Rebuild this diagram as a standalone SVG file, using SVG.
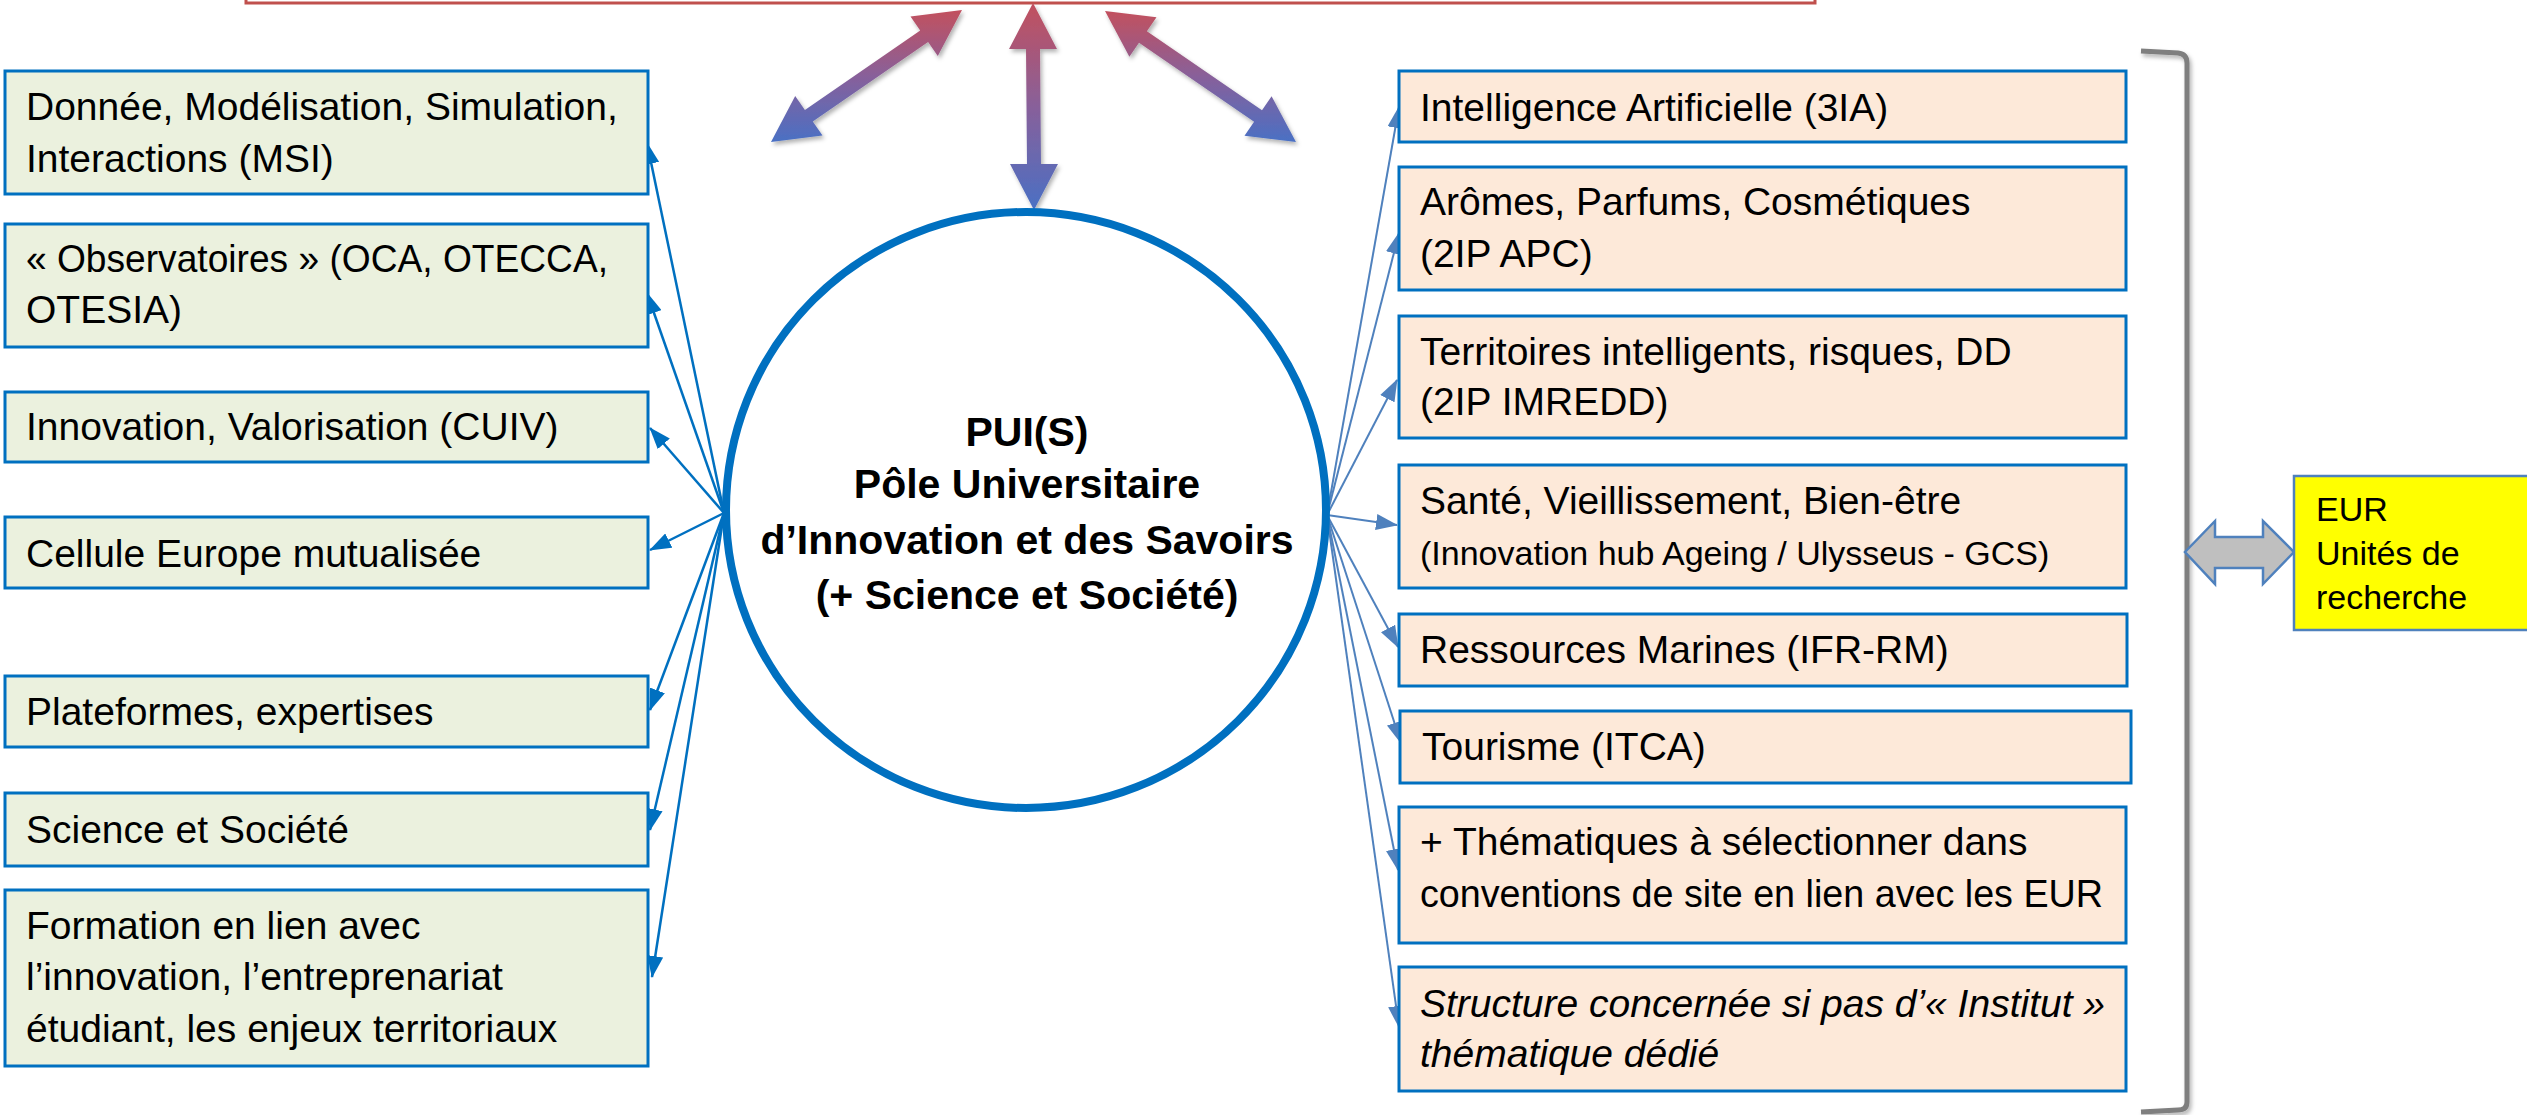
<svg xmlns="http://www.w3.org/2000/svg" width="2527" height="1115" viewBox="0 0 2527 1115">
<style>
.lbox{fill:#ebf1de;stroke:#0070c0;stroke-width:3}
.rbox{fill:#fde9d9;stroke:#0070c0;stroke-width:3}
.t{font-family:"Liberation Sans",Arial,sans-serif;font-size:39px;fill:#000}
.ts{font-family:"Liberation Sans",Arial,sans-serif;font-size:34px;fill:#000}
.ti{font-family:"Liberation Sans",Arial,sans-serif;font-size:39px;font-style:italic;fill:#000}
.tc{font-family:"Liberation Sans",Arial,sans-serif;font-size:41px;font-weight:bold;fill:#000;text-anchor:middle}
.te{font-family:"Liberation Sans",Arial,sans-serif;font-size:34px;fill:#000}
.cl{stroke:#0070c0;stroke-width:2.5;fill:none;marker-end:url(#ahL)}
.cr{stroke:#4f81bd;stroke-width:2;fill:none;marker-end:url(#ahR)}
.big{fill:url(#grad);filter:url(#sh)}
</style>
<defs>
<linearGradient id="grad" x1="0" y1="0" x2="0" y2="1">
<stop offset="0" stop-color="#c2505e"/>
<stop offset="0.5" stop-color="#88609a"/>
<stop offset="1" stop-color="#4a70c4"/>
</linearGradient>
<filter id="sh" x="-20%" y="-20%" width="140%" height="140%">
<feDropShadow dx="2" dy="3" stdDeviation="2" flood-color="#000" flood-opacity="0.3"/>
</filter>
<marker id="ahL" markerUnits="userSpaceOnUse" markerWidth="22" markerHeight="16" refX="21" refY="8" orient="auto">
<path d="M0,0 L22,8 L0,16 z" fill="#0070c0"/>
</marker>
<marker id="ahR" markerUnits="userSpaceOnUse" markerWidth="22" markerHeight="16" refX="21" refY="8" orient="auto">
<path d="M0,0 L22,8 L0,16 z" fill="#4f81bd"/>
</marker>
</defs>
<rect width="2527" height="1115" fill="#fff"/>

<g id="top-box">
<rect x="246" y="-20" width="1569" height="23" fill="#fff" stroke="#c0504d" stroke-width="3"/>
</g>

<g id="top-arrows">
<polygon class="big" points="962,10 937.8,55.9 928.1,41.9 812.8,121.6 822.5,135.6 771,142 795.2,96.1 804.9,110.1 920.2,30.4 910.5,16.4"/>
<polygon class="big" points="1033,3 1057,49 1040,49 1041,164 1058,164 1034,210 1010,164 1027,164 1026,49 1009,49"/>
<polygon class="big" points="1105,11 1129.4,56.8 1139,42.8 1254.1,121.8 1244.5,135.8 1296,142 1271.6,96.2 1262,110.2 1146.9,31.3 1156.5,17.2"/>
</g>

<g id="connectors">
<line class="cl" x1="724" y1="513" x2="647" y2="143"/>
<line class="cl" x1="724" y1="513" x2="647" y2="293"/>
<line class="cl" x1="724" y1="513" x2="650" y2="428"/>
<line class="cl" x1="724" y1="513" x2="650" y2="550"/>
<line class="cl" x1="724" y1="513" x2="650" y2="710"/>
<line class="cl" x1="724" y1="513" x2="650" y2="830"/>
<line class="cl" x1="724" y1="513" x2="652" y2="977"/>
<line class="cr" x1="1327" y1="515" x2="1399" y2="107"/>
<line class="cr" x1="1327" y1="515" x2="1399" y2="233"/>
<line class="cr" x1="1327" y1="515" x2="1397" y2="380"/>
<line class="cr" x1="1327" y1="515" x2="1397" y2="525"/>
<line class="cr" x1="1327" y1="515" x2="1398" y2="647"/>
<line class="cr" x1="1327" y1="515" x2="1401" y2="743"/>
<line class="cr" x1="1327" y1="515" x2="1398" y2="870"/>
<line class="cr" x1="1327" y1="515" x2="1399" y2="1027"/>
</g>

<g id="center">
<ellipse cx="1026" cy="510" rx="300" ry="298" fill="#fff" stroke="#0070c0" stroke-width="8"/>
<text class="tc" x="1027" y="446">PUI(S)</text>
<text class="tc" x="1027" y="498">Pôle Universitaire</text>
<text class="tc" x="1027" y="554">d’Innovation et des Savoirs</text>
<text class="tc" x="1027" y="609">(+ Science et Société)</text>
</g>

<g id="left-msi">
<rect class="lbox" x="5" y="71" width="643" height="123"/>
<text class="t" x="26" y="120">Donnée, Modélisation, Simulation,</text>
<text class="t" x="26" y="172">Interactions (MSI)</text>
</g>
<g id="left-observatoires">
<rect class="lbox" x="5" y="224" width="643" height="123"/>
<text class="t" x="26" y="272" textLength="582" lengthAdjust="spacingAndGlyphs">« Observatoires » (OCA, OTECCA,</text>
<text class="t" x="26" y="323">OTESIA)</text>
</g>
<g id="left-cuiv">
<rect class="lbox" x="5" y="392" width="643" height="70"/>
<text class="t" x="26" y="440">Innovation, Valorisation (CUIV)</text>
</g>
<g id="left-europe">
<rect class="lbox" x="5" y="517" width="643" height="71"/>
<text class="t" x="26" y="567">Cellule Europe mutualisée</text>
</g>
<g id="left-plateformes">
<rect class="lbox" x="5" y="676" width="643" height="71"/>
<text class="t" x="26" y="725">Plateformes, expertises</text>
</g>
<g id="left-science">
<rect class="lbox" x="5" y="793" width="643" height="73"/>
<text class="t" x="26" y="843">Science et Société</text>
</g>
<g id="left-formation">
<rect class="lbox" x="5" y="890" width="643" height="176"/>
<text class="t" x="26" y="939">Formation en lien avec</text>
<text class="t" x="26" y="990">l’innovation, l’entreprenariat</text>
<text class="t" x="26" y="1042">étudiant, les enjeux territoriaux</text>
</g>

<g id="right-3ia">
<rect class="rbox" x="1399" y="71" width="727" height="71"/>
<text class="t" x="1420" y="121">Intelligence Artificielle (3IA)</text>
</g>
<g id="right-apc">
<rect class="rbox" x="1399" y="167" width="727" height="123"/>
<text class="t" x="1420" y="215">Arômes, Parfums, Cosmétiques</text>
<text class="t" x="1420" y="267">(2IP APC)</text>
</g>
<g id="right-imredd">
<rect class="rbox" x="1399" y="316" width="727" height="122"/>
<text class="t" x="1420" y="365">Territoires intelligents, risques, DD</text>
<text class="t" x="1420" y="415">(2IP IMREDD)</text>
</g>
<g id="right-sante">
<rect class="rbox" x="1399" y="465" width="727" height="123"/>
<text class="t" x="1420" y="514">Santé, Vieillissement, Bien-être</text>
<text class="ts" x="1420" y="565">(Innovation hub Ageing / Ulysseus - GCS)</text>
</g>
<g id="right-marines">
<rect class="rbox" x="1399" y="614" width="728" height="72"/>
<text class="t" x="1420" y="663">Ressources Marines (IFR-RM)</text>
</g>
<g id="right-tourisme">
<rect class="rbox" x="1400" y="711" width="731" height="72"/>
<text class="t" x="1422" y="760">Tourisme (ITCA)</text>
</g>
<g id="right-thematiques">
<rect class="rbox" x="1399" y="807" width="727" height="136"/>
<text class="t" x="1420" y="855">+ Thématiques à sélectionner dans</text>
<text class="t" x="1420" y="907" textLength="683" lengthAdjust="spacingAndGlyphs">conventions de site en lien avec les EUR</text>
</g>
<g id="right-structure">
<rect class="rbox" x="1399" y="967" width="727" height="124"/>
<text class="ti" x="1420" y="1017">Structure concernée si pas d’« Institut »</text>
<text class="ti" x="1420" y="1067">thématique dédié</text>
</g>

<g id="bracket">
<path d="M2141,51 L2178,53 Q2187,54 2187,63 L2187,1102 Q2187,1110 2178,1110 L2141,1112" fill="none" stroke="#7f7f7f" stroke-width="5" filter="url(#sh)"/>
</g>

<g id="eur-arrow">
<polygon points="2185,552 2215,521 2215,537 2263,537 2263,521 2294,552 2263,584 2263,568 2215,568 2215,584" fill="#bfbfbf" stroke="#4f81bd" stroke-width="2.5"/>
</g>

<g id="eur">
<rect x="2294" y="476" width="250" height="154" fill="#ffff00" stroke="#4f81bd" stroke-width="2.5"/>
<text class="te" x="2316" y="521">EUR</text>
<text class="te" x="2316" y="565">Unités de</text>
<text class="te" x="2316" y="609">recherche</text>
</g>
</svg>
